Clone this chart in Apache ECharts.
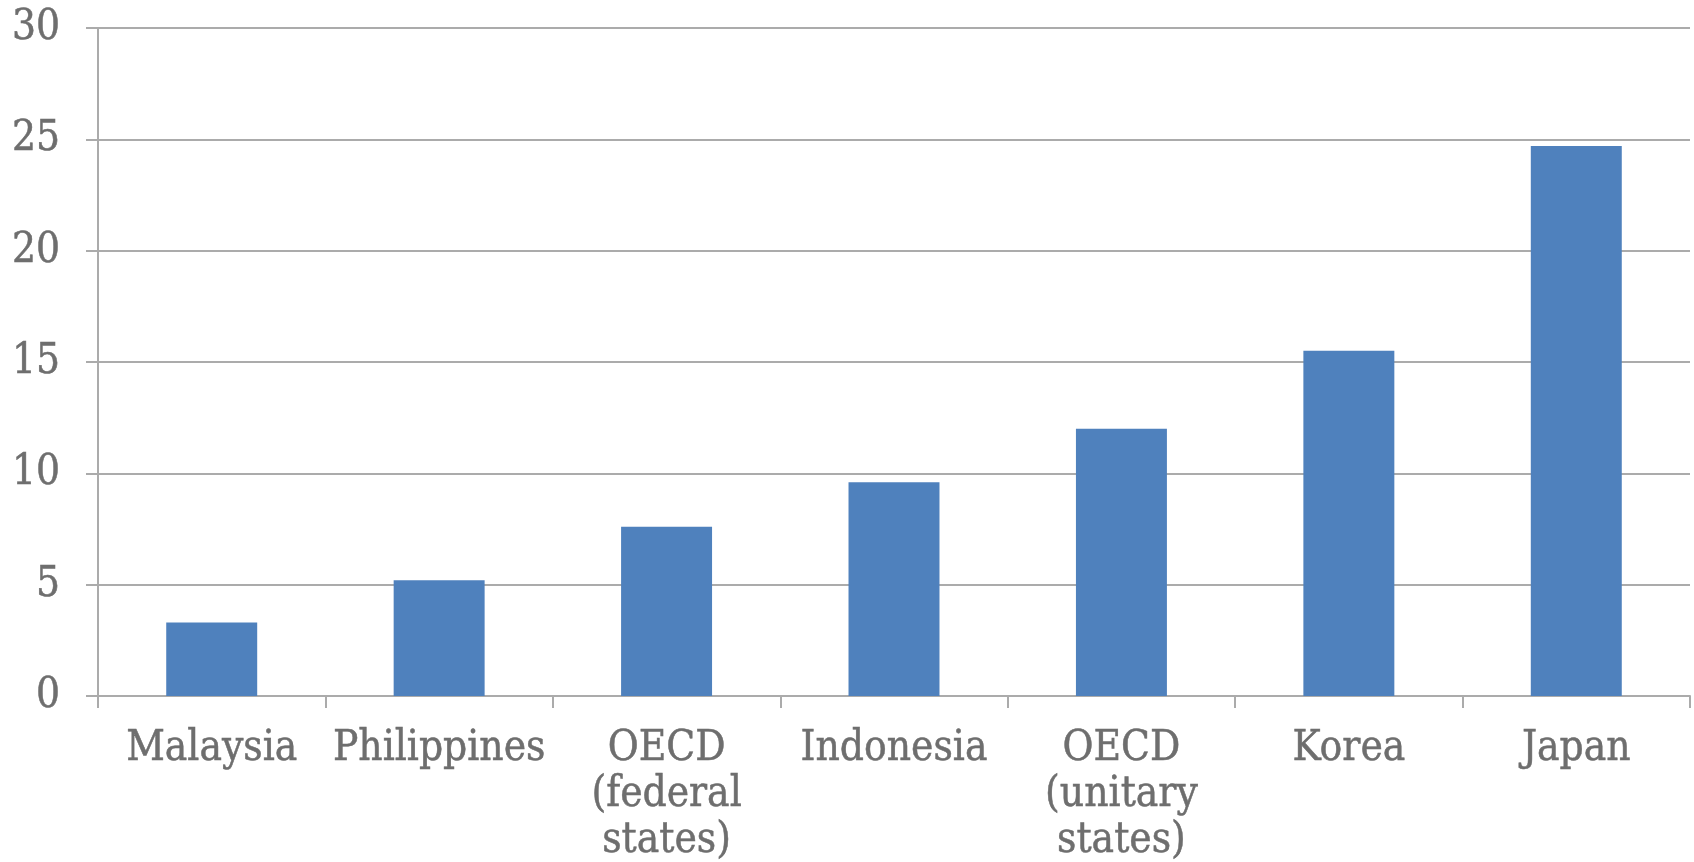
<!DOCTYPE html>
<html>
<head>
<meta charset="utf-8">
<script src="https://cdn.jsdelivr.net/npm/echarts@6/dist/echarts.min.js"></script>
<style>
  html, body { margin: 0; padding: 0; background: #fff; }
  #chart { width: 1694px; height: 862px; }
</style>
</head>
<body>
<div id="chart"></div>
<script>
// chart data
const categories = ["Malaysia", "Philippines", "OECD\n(federal\nstates)", "Indonesia", "OECD\n(unitary\nstates)", "Korea", "Japan"];
const values = [3.3, 5.2, 7.6, 9.6, 12.0, 15.5, 24.7];
const yTicks = [0, 5, 10, 15, 20, 25, 30];

const gray = "#ababab";
const textColor = "#6e6e6e";
const font = "'DejaVu Serif Condensed', 'DejaVu Serif', serif";

const labelStyle = {
  color: textColor,
  fontFamily: font,
  fontSize: 42,
  textBorderColor: textColor,
  textBorderWidth: 0.5,
};

const option = {
  animation: false,
  grid: { left: 98, right: 4, top: 28, bottom: 166, outerBoundsMode: "none" },
  xAxis: {
    type: "category",
    data: categories,
    axisLine: { lineStyle: { color: gray, width: 2 } },
    axisTick: { show: true, length: 12, lineStyle: { color: gray, width: 2 } },
    axisLabel: Object.assign({ interval: 0, margin: 30, lineHeight: 46 }, labelStyle),
  },
  yAxis: {
    type: "value",
    min: yTicks[0],
    max: yTicks[yTicks.length - 1],
    interval: 5,
    axisLine: { show: true, lineStyle: { color: gray, width: 2 } },
    axisTick: { show: true, length: 12, lineStyle: { color: gray, width: 2 } },
    splitLine: { lineStyle: { color: gray, width: 2 } },
    axisLabel: Object.assign({ margin: 38 }, labelStyle),
  },
  series: [
    {
      type: "bar",
      data: values,
      barWidth: "40%",
      itemStyle: { color: "#4f81bd" },
    },
  ],
};

const myChart = echarts.init(document.getElementById("chart"));
myChart.setOption(option);
</script>
</body>
</html>
